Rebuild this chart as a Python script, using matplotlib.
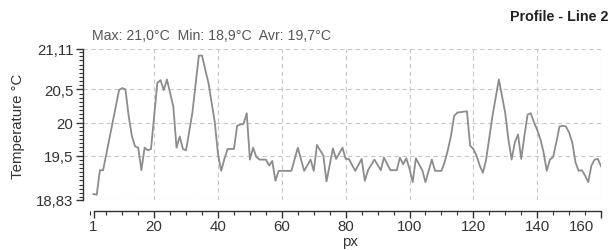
import matplotlib.pyplot as plt
from matplotlib.ticker import FixedLocator, MultipleLocator
import matplotlib.transforms as mtransforms

plt.rcParams['font.family'] = ['Liberation Sans', 'DejaVu Sans']

# profile along line 2 (pixel index -> temperature)
px = [1, 2, 3, 4, 9, 10, 11, 12, 13, 14, 15, 16, 17, 18, 19, 21, 22, 23, 24, 26,
      27, 28, 29, 30, 32, 34, 35, 36, 37, 39, 40, 41, 42, 43, 45, 46, 47, 48, 49, 50,
      51, 52, 53, 55, 56, 57, 58, 59, 63, 65, 67, 69, 70, 71, 72, 73, 74, 76, 77, 79,
      80, 81, 83, 85, 86, 87, 89, 91, 92, 94, 96, 97, 98, 99, 100, 101, 102, 104, 105, 107,
      108, 110, 111, 112, 113, 114, 115, 118, 119, 120, 121, 122, 123, 124, 126, 128, 130, 131, 132, 133,
      134, 135, 136, 137, 138, 139, 140, 141, 142, 143, 144, 145, 146, 147, 148, 149, 150, 151, 152, 153,
      154, 155, 156, 157, 158, 159, 160]
temp = [18.92, 18.91, 19.28, 19.28, 20.49, 20.52, 20.5, 20.1, 19.8, 19.64, 19.62, 19.28, 19.62, 19.58, 19.6, 20.6, 20.64, 20.49, 20.65, 20.24,
        19.62, 19.79, 19.6, 19.58, 20.16, 21.01, 21.01, 20.8, 20.6, 20.0, 19.52, 19.27, 19.45, 19.6, 19.6, 19.95, 19.97, 19.98, 20.14, 19.44,
        19.62, 19.48, 19.44, 19.44, 19.35, 19.42, 19.12, 19.27, 19.27, 19.62, 19.27, 19.44, 19.27, 19.66, 19.58, 19.5, 19.11, 19.61, 19.45, 19.62,
        19.45, 19.45, 19.27, 19.45, 19.12, 19.28, 19.44, 19.28, 19.47, 19.28, 19.28, 19.47, 19.37, 19.46, 19.3, 19.1, 19.46, 19.28, 19.1, 19.44,
        19.27, 19.27, 19.4, 19.58, 19.8, 20.1, 20.15, 20.17, 19.65, 19.6, 19.5, 19.35, 19.24, 19.44, 20.1, 20.65, 20.14, 19.74, 19.44, 19.7,
        19.82, 19.45, 19.8, 20.12, 20.14, 20.0, 19.89, 19.75, 19.55, 19.27, 19.44, 19.48, 19.7, 19.94, 19.95, 19.94, 19.85, 19.7, 19.4, 19.27,
        19.28, 19.2, 19.1, 19.35, 19.44, 19.45, 19.34]

y_ticks = [18.83, 19.5, 20, 20.5, 21.11]
y_labels = ['18,83', '19,5', '20', '20,5', '21,11']
x_ticks = [1, 20, 40, 60, 80, 100, 120, 140, 160]
x_grid = [20, 40, 60, 80, 100, 120, 140, 160]

fig = plt.figure(figsize=(6.11, 2.51), dpi=100)
ax = fig.add_axes([83 / 611, 1 - 201 / 251, (601 - 83) / 611, (201 - 50) / 251])

for g in y_ticks:
    ax.axhline(g, color='#c8c8c8', lw=0.8, ls=(0, (4, 3)), zorder=0)
for g in x_grid:
    ax.axvline(g, color='#c8c8c8', lw=0.8, ls=(0, (4, 3)), zorder=0)

ax.plot(px, temp, color='#8c8c8c', lw=1.3)

ax.set_xlim(-2.3, 160)
ax.set_ylim(18.83, 21.11)

for s in ['top', 'right']:
    ax.spines[s].set_visible(False)
ax.spines['left'].set_bounds(18.83, 21.11)
ax.spines['bottom'].set_position(('outward', 8))
ax.spines['bottom'].set_bounds(1, 160)
for s in ['left', 'bottom']:
    ax.spines[s].set_color('#333333')
    ax.spines[s].set_linewidth(1.0)

ax.xaxis.set_major_locator(FixedLocator(x_ticks))
ax.xaxis.set_minor_locator(MultipleLocator(5))
ax.yaxis.set_major_locator(FixedLocator(y_ticks))
ax.set_yticklabels(y_labels)
ax.yaxis.set_minor_locator(MultipleLocator(0.0625))
ax.tick_params(which='major', length=5, width=1, color='#333333', labelsize=10.8, labelcolor='#333333')
ax.tick_params(which='minor', length=3, width=0.8, color='#333333')
ax.tick_params(axis='y', pad=2)
ax.tick_params(axis='x', pad=1)

# last x label pulled in so it stays inside the picture
lab = ax.get_xticklabels()[-1]
lab.set_transform(lab.get_transform() + mtransforms.ScaledTranslation(-0.19, 0, fig.dpi_scale_trans))

fig.text(18 / 611, 1 - 126 / 251, 'Temperature °C', rotation=90, ha='center', va='center',
         fontsize=10.8, color='#333333')
fig.text(350 / 611, 1 - 242 / 251, 'px', ha='center', va='center', fontsize=10.8, color='#333333')
fig.text(608 / 611, 1 - 17 / 251, 'Profile - Line 2', ha='right', va='center',
         fontsize=10.3, fontweight='bold', color='#222222')
fig.text(92 / 611, 1 - 36 / 251, 'Max: 21,0°C  Min: 18,9°C  Avr: 19,7°C', ha='left', va='center',
         fontsize=10.2, color='#555555')

fig.savefig('out.png', dpi=100, facecolor='white')
